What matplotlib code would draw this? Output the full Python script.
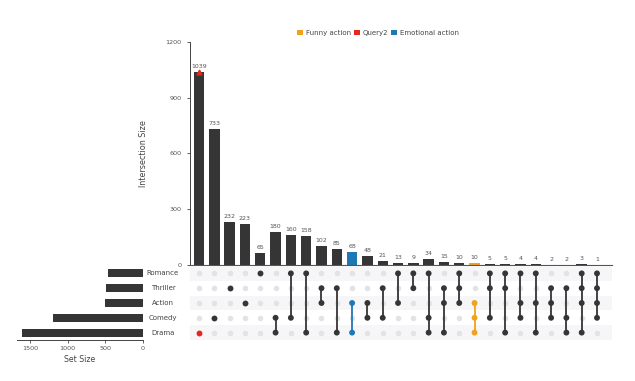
import matplotlib
matplotlib.use("Agg")
import matplotlib.pyplot as plt
from matplotlib.patches import Patch

# ---------------- data ----------------
sets = ["Drama", "Comedy", "Action", "Thriller", "Romance"]   # bottom -> top
set_sizes = [1603, 1200, 503, 492, 471]

intersections = [
    ["Drama"],
    ["Comedy"],
    ["Thriller"],
    ["Action"],
    ["Romance"],
    ["Comedy", "Drama"],
    ["Romance", "Comedy"],
    ["Romance", "Drama"],
    ["Thriller", "Action"],
    ["Thriller", "Drama"],
    ["Action", "Drama"],
    ["Action", "Comedy"],
    ["Thriller", "Comedy"],
    ["Romance", "Action"],
    ["Romance", "Thriller"],
    ["Romance", "Comedy", "Drama"],
    ["Thriller", "Action", "Drama"],
    ["Romance", "Thriller", "Action"],
    ["Action", "Comedy", "Drama"],
    ["Romance", "Thriller", "Comedy"],
    ["Romance", "Thriller", "Drama"],
    ["Romance", "Action", "Comedy"],
    ["Romance", "Action", "Drama"],
    ["Thriller", "Action", "Comedy"],
    ["Thriller", "Comedy", "Drama"],
    ["Romance", "Thriller", "Action", "Drama"],
    ["Romance", "Thriller", "Action", "Comedy"],
]
inter_sizes = [1039, 733, 232, 223, 65, 180, 160, 158, 102, 85, 68, 48, 21,
               13, 9, 34, 15, 10, 10, 5, 5, 4, 4, 2, 2, 3, 1]

queries = ["Funny action", "Query2", "Emotional action"]
query_colors = ["#f0a21c", "#e8261c", "#1f77b4"]
funny_idx = 18        # Action & Comedy & Drama
emotional_idx = 10    # Action & Drama
query2_idx = 0        # Drama element query

# ---------------- style ----------------
DARK = "#353535"
GRAY_TXT = "#555555"
INACTIVE = "#e3e3e3"
STRIPE = "#f6f6f8"

W, H = 635, 381
fig = plt.figure(figsize=(W / 100, H / 100), dpi=100)

def rect(l, t, r, b):
    return [l / W, 1 - b / H, (r - l) / W, (b - t) / H]

n = len(intersections)
x0 = -0.59
x1 = n - 1 + 0.98

# --- intersection bars ---
axb = fig.add_axes(rect(190, 42, 612, 265))
bar_colors = [DARK] * n
bar_colors[funny_idx] = query_colors[0]
bar_colors[emotional_idx] = query_colors[2]
axb.bar(range(n), inter_sizes, width=0.68, color=bar_colors)
for i, v in enumerate(inter_sizes):
    axb.text(i, v + 16, str(v), ha="center", va="bottom", fontsize=4.5, color=GRAY_TXT)
axb.plot([query2_idx], [inter_sizes[query2_idx]], marker="^", color=query_colors[1],
         markersize=3.5, linestyle="none")
axb.set_xlim(x0, x1)
axb.set_ylim(0, 1200)
axb.set_yticks([0, 300, 600, 900, 1200])
axb.set_xticks([])
axb.tick_params(axis="y", labelsize=4.6, labelcolor=GRAY_TXT, length=2.5, width=0.6, color="#444")
for s in ["top", "right"]:
    axb.spines[s].set_visible(False)
axb.spines["left"].set_color("#444")
axb.spines["left"].set_linewidth(0.7)
axb.spines["bottom"].set_color("#555")
axb.spines["bottom"].set_linewidth(0.8)
axb.set_ylabel("Intersection Size", fontsize=5.8, color="#444", labelpad=12.5)

# --- matrix ---
axm = fig.add_axes(rect(190, 266, 612, 340))
axm.set_xlim(x0, x1)
axm.set_ylim(-0.5, len(sets) - 0.5)
axm.axis("off")
for r in range(len(sets)):
    if r % 2 == 0:
        axm.axhspan(r - 0.5, r + 0.5, color=STRIPE, zorder=0, lw=0)
for i, members in enumerate(intersections):
    rows = [sets.index(m) for m in members]
    col = DARK
    if i == funny_idx:
        col = query_colors[0]
    elif i == emotional_idx:
        col = query_colors[2]
    inactive = [r for r in range(len(sets)) if r not in rows]
    axm.scatter([i] * len(inactive), inactive, s=16, color=INACTIVE, zorder=2, lw=0)
    if len(rows) > 1:
        axm.plot([i, i], [min(rows), max(rows)], color=col, lw=1.3, zorder=3)
    dot_cols = [col] * len(rows)
    if i == query2_idx:
        dot_cols = [query_colors[1]] * len(rows)
    axm.scatter([i] * len(rows), rows, s=18, color=dot_cols, zorder=4, lw=0)
for r, name in enumerate(sets):
    axm.text(-0.064, r, name, transform=axm.get_yaxis_transform(), ha="center",
             va="center", fontsize=5.0, color="#444")

# --- set size bars ---
axs = fig.add_axes(rect(17, 266, 143, 340))
axs.barh(range(len(sets)), set_sizes, height=0.55, color=DARK)
axs.set_xlim(1675, 0)
axs.set_ylim(-0.5, len(sets) - 0.5)
axs.set_yticks([])
axs.set_xticks([1500, 1000, 500, 0])
axs.tick_params(axis="x", labelsize=4.6, labelcolor=GRAY_TXT, length=2.5, width=0.6, color="#444", pad=2)
for s in ["top", "right", "left"]:
    axs.spines[s].set_visible(False)
axs.spines["bottom"].set_color("#444")
axs.spines["bottom"].set_linewidth(0.7)
axs.set_xlabel("Set Size", fontsize=5.6, color="#444", labelpad=2.5)

# --- legend ---
handles = [Patch(facecolor=c, edgecolor="none") for c in query_colors]
fig.legend(handles, queries, loc="center", bbox_to_anchor=(378 / W, 1 - 33 / H),
           ncol=3, frameon=False, fontsize=5.0, handlelength=0.8, handleheight=0.8,
           handletextpad=0.4, columnspacing=0.5, labelcolor="#444")

fig.savefig("out.png", dpi=100)
